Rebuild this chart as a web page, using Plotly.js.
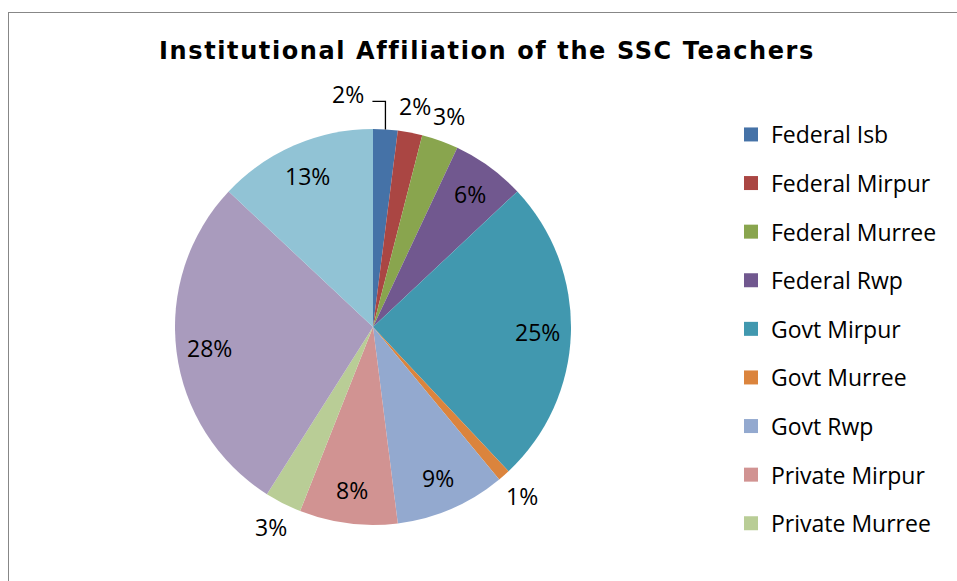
<!DOCTYPE html>
<html>
<head>
<meta charset="utf-8">
<script src="https://cdn.plot.ly/plotly-3.0.1.min.js"></script>
<style>
  html, body { margin: 0; padding: 0; background: #ffffff; overflow: hidden; }
  #frame { position: absolute; left: 8px; top: 12px; width: 1100px; height: 700px; border: 1px solid #878787; background: #fff; }
  #chart { width: 1100px; height: 700px; }
  #chart .gtitle { letter-spacing: 1.6px; }
</style>
</head>
<body>
<div id="frame"><div id="chart"></div></div>
<script>
// ---- data ----
const categories = ["Federal Isb", "Federal Mirpur", "Federal Murree", "Federal Rwp",
  "Govt Mirpur", "Govt Murree", "Govt Rwp", "Private Mirpur", "Private Murree",
  "Private Rwp", "Private Isb"];
const percents = [2, 2, 3, 6, 25, 1, 9, 8, 3, 28, 13];
const colors = ["#4572A7", "#AA4643", "#89A54E", "#71588F", "#4198AF", "#DB843D",
  "#93A9CF", "#D19392", "#B9CD96", "#A99BBD", "#91C3D5"];
// where each data label sits, as in the reference
const labelPlacement = ["leader", "outside", "outside", "inside", "inside", "outside",
  "inside", "inside", "outside", "inside", "inside"];
// the reference legend box only has room for the first nine entries
const legendVisibleCount = 9;
const titleText = "Institutional Affiliation of the SSC Teachers";

// ---- layout / style ----
const W = 1100, H = 700;
const cx = 364, cy = 314, R = 198;          // pie centre and radius in px
const FONT = "'Open Sans', 'Noto Sans', sans-serif";
const INSIDE_R = 0.83, OUTSIDE_R = 1.135;    // label radii as fraction of R
const LEADER_RISE = 28, LEADER_RUN = 13;     // elbow leader line, px
const LEADER_GAP = 6, LEADER_TEXT_UP = 7;    // label offset from the elbow end, px

const pie = {
  type: "pie",
  labels: categories,
  values: percents,
  sort: false,
  direction: "clockwise",
  rotation: 0,
  marker: { colors: colors, line: { width: 0 } },
  textinfo: "none",
  hoverinfo: "label+percent",
  showlegend: false,
  domain: { x: [(cx - R) / W, (cx + R) / W], y: [1 - (cy + R) / H, 1 - (cy - R) / H] }
};

// legend entries: one marker-only trace per category, so item spacing can be set
const legendTraces = categories.map((name, i) => ({
  type: "scatter", mode: "markers", x: [null], y: [null],
  name: name, legendgroup: name,
  marker: { symbol: "square", size: 14, color: colors[i] },
  hoverinfo: "skip", showlegend: i < legendVisibleCount
}));

// data labels placed along each slice's mid angle (Excel-style placement)
const total = percents.reduce((a, b) => a + b, 0);
const toPX = (x) => x / W, toPY = (y) => 1 - y / H;
const annotations = [], shapes = [];
let cum = 0;
percents.forEach((v, i) => {
  const theta = 2 * Math.PI * (cum + v / 2) / total;
  cum += v;
  const place = labelPlacement[i];
  const font = { family: FONT, size: 23, color: "#000" };
  if (place === "leader") {
    const x0 = cx + R * Math.sin(theta), y0 = cy - R * Math.cos(theta);
    const y1 = y0 - LEADER_RISE, x2 = x0 - LEADER_RUN;
    shapes.push({
      type: "path", xref: "paper", yref: "paper",
      path: "M" + toPX(x0) + "," + toPY(y0) + " L" + toPX(x0) + "," + toPY(y1) +
            " L" + toPX(x2) + "," + toPY(y1),
      line: { color: "#000", width: 1.3 }
    });
    annotations.push({
      xref: "paper", yref: "paper", x: toPX(x2 - LEADER_GAP), y: toPY(y1 - LEADER_TEXT_UP),
      text: v + "%", font: font, xanchor: "right", yanchor: "middle", showarrow: false
    });
  } else {
    const rf = place === "inside" ? INSIDE_R : OUTSIDE_R;
    annotations.push({
      xref: "paper", yref: "paper",
      x: toPX(cx + rf * R * Math.sin(theta)), y: toPY(cy - rf * R * Math.cos(theta)),
      text: v + "%", font: font, xanchor: "center", yanchor: "middle", showarrow: false
    });
  }
});

const layout = {
  width: W, height: H,
  margin: { l: 0, r: 0, t: 0, b: 0 },
  paper_bgcolor: "#ffffff", plot_bgcolor: "#ffffff",
  title: {
    text: "<b>" + titleText + "</b>",
    font: { family: "'DejaVu Sans', Verdana, sans-serif", size: 24, color: "#000" },
    x: 478 / W, xanchor: "center", y: 1 - 38 / H, yanchor: "middle"
  },
  xaxis: { visible: false, domain: [0.9, 1] },
  yaxis: { visible: false, domain: [0.9, 1] },
  annotations: annotations,
  shapes: shapes,
  showlegend: true,
  legend: {
    x: 722 / W, xanchor: "left", y: 1 - 100 / H, yanchor: "top",
    font: { family: FONT, size: 23, color: "#000" },
    tracegroupgap: 15.7, bgcolor: "rgba(0,0,0,0)", borderwidth: 0,
    itemclick: false, itemdoubleclick: false
  }
};

Plotly.newPlot("chart", [pie].concat(legendTraces), layout, { displayModeBar: false, staticPlot: true });
</script>
</body>
</html>
